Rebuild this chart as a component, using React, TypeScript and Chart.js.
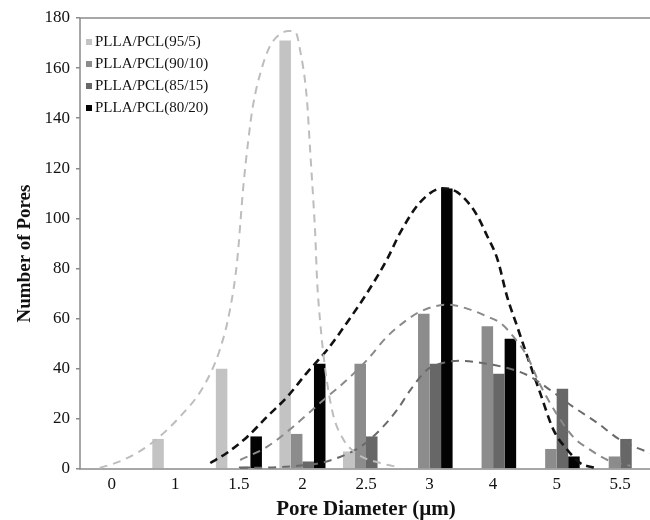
import React, { useEffect, useRef } from 'react';
import { Chart, registerables } from 'chart.js';

Chart.register(...registerables);

// Categories (pore diameter, µm) and tick values
const categories = ['0', '1', '1.5', '2', '2.5', '3', '4', '5', '5.5'];
const yTickMin = 0;
const yTickMax = 180;
const yTickStep = 20;

// Series labels
const seriesLabels = ['PLLA/PCL(95/5)', 'PLLA/PCL(90/10)', 'PLLA/PCL(85/15)', 'PLLA/PCL(80/20)'];

// Bar values (number of pores) per category
const pores95_5 = [0, 12, 40, 171, 7, 0, 0, 0, 0];
const pores90_10 = [0, 0, 0, 14, 42, 62, 57, 8, 5];
const pores85_15 = [0, 0, 1, 3, 13, 42, 38, 32, 12];
const pores80_20 = [0, 0, 13, 42, 0, 112, 52, 5, 0];

// Fitted distribution curves.
// x is in category-slot units: 0 = left edge of the "0" slot, 9 = right edge of the "5.5" slot.
const fit95_5: [number, number][] = [
  [0.31, 0.4], [0.68, 3.6], [1.13, 10.4], [1.57, 20.8], [1.94, 32.8], [2.2, 47.6], [2.36, 63.6],
  [2.47, 82.4], [2.57, 112.8], [2.65, 131.6], [2.72, 144.8], [2.87, 160.8], [2.99, 168.8],
  [3.15, 173.6], [3.28, 174.8], [3.39, 174.4], [3.46, 167.6], [3.57, 147.6], [3.62, 127.6],
  [3.67, 107.6], [3.7, 94.4], [3.73, 75.6], [3.78, 58.4], [3.86, 39.6], [3.98, 22], [4.14, 12],
  [4.36, 6], [4.72, 2.4], [5.04, 0.6],
];
const fit90_10: [number, number][] = [
  [2.52, 3.6], [2.94, 8.8], [3.35, 16.8], [3.78, 26.4], [4.2, 35.6], [4.52, 43.6], [4.83, 52.8],
  [5.15, 59.6], [5.35, 62.8], [5.78, 65.6], [6.14, 63.6], [6.41, 60.8], [6.61, 58.4], [6.82, 52.8],
  [7.04, 44.8], [7.24, 33.6], [7.51, 21.6], [7.76, 12.8], [8.03, 7.6], [8.3, 3.6], [8.66, 1.2],
];
const fit85_15: [number, number][] = [
  [2.52, 0.4], [3.15, 0.8], [3.78, 2.4], [4.09, 4.8], [4.41, 8.8], [4.72, 15.6], [4.99, 23.6],
  [5.2, 31.6], [5.46, 39.6], [5.72, 42.4], [5.98, 43.2], [6.3, 42.4], [6.82, 39.6], [7.09, 36.8],
  [7.35, 32.4], [7.76, 24.8], [8.14, 18.4], [8.5, 11.6], [8.98, 6.4], [9.1, 5.6],
];
const fit80_20: [number, number][] = [
  [2.05, 2.4], [2.31, 6.4], [2.63, 12.8], [2.94, 20.8], [3.26, 28.8], [3.57, 38.4], [3.89, 47.6],
  [4.2, 58.4], [4.52, 70.4], [4.83, 83.6], [5.04, 94.4], [5.35, 106.4], [5.7, 112], [5.94, 110.4],
  [6.22, 102.4], [6.41, 92.8], [6.57, 83.6], [6.72, 68.8], [6.88, 56.8], [7.04, 44.8], [7.24, 30.4],
  [7.45, 15.6], [7.67, 7.6], [7.87, 2.4], [8.11, 0.4],
];

const barColors = ['#c3c3c3', '#8c8c8c', '#676767', '#030303'];
const curveColors = ['#bdbdbd', '#8a8a8a', '#6a6a6a', '#111111'];
const FONT = '"Liberation Serif", "Times New Roman", serif';

const W = 652;
const H = 520;
const AREA_LEFT = 80;
const AREA_TOP = 18;
const X_AXIS_H = 51;

const framePlugin = {
  id: 'frame',
  afterDatasetsDraw(chart: any) {
    const { ctx, chartArea: a } = chart;
    ctx.save();
    ctx.strokeStyle = '#8a8a8a';
    ctx.lineWidth = 1.5;
    ctx.strokeRect(a.left, a.top, a.right - a.left, a.bottom - a.top);
    ctx.restore();
  },
};

const legendPlugin = {
  id: 'insideLegend',
  afterDraw(chart: any) {
    const { ctx, chartArea: a } = chart;
    ctx.save();
    ctx.font = `15px ${FONT}`;
    ctx.textBaseline = 'middle';
    ctx.textAlign = 'left';
    seriesLabels.forEach((label, i) => {
      const y = a.top + 24 + i * 22;
      ctx.fillStyle = barColors[i];
      ctx.fillRect(a.left + 6, y - 3, 6, 6);
      ctx.fillStyle = '#111';
      ctx.fillText(label, a.left + 15, y);
    });
    ctx.restore();
  },
};

const yTitlePlugin = {
  id: 'yTitle',
  afterDraw(chart: any) {
    const { ctx, chartArea: a } = chart;
    ctx.save();
    ctx.translate(25, (a.top + a.bottom) / 2 + 10);
    ctx.rotate(-Math.PI / 2);
    ctx.font = `bold 19px ${FONT}`;
    ctx.fillStyle = '#111';
    ctx.textAlign = 'center';
    ctx.textBaseline = 'middle';
    ctx.fillText('Number of Pores', 0, 0);
    ctx.restore();
  },
};

export default function App() {
  const barRef = useRef<HTMLCanvasElement | null>(null);
  const curveRef = useRef<HTMLCanvasElement | null>(null);

  useEffect(() => {
    if (!barRef.current || !curveRef.current) return;
    const barSeries = [pores95_5, pores90_10, pores85_15, pores80_20];
    const fits = [fit95_5, fit90_10, fit85_15, fit80_20];

    const barChart = new Chart(barRef.current, {
      type: 'bar',
      data: {
        labels: categories,
        datasets: barSeries.map((d, i) => ({
          label: seriesLabels[i],
          data: d,
          backgroundColor: barColors[i],
          borderWidth: 0,
          barPercentage: 1,
          categoryPercentage: 0.725,
        })),
      },
      options: {
        animation: false,
        responsive: false,
        layout: { padding: { top: AREA_TOP, right: 0, left: 0, bottom: 0 } },
        plugins: {
          legend: { display: false },
          tooltip: { enabled: false },
          title: { display: false },
        },
        scales: {
          x: {
            type: 'category',
            position: 'bottom',
            offset: true,
            grid: { display: false, drawTicks: false },
            border: { display: false },
            ticks: { color: '#111', font: { family: FONT, size: 17 }, padding: 5, maxRotation: 0 },
            title: {
              display: true,
              text: 'Pore Diameter (\u00b5m)',
              color: '#111',
              font: { family: FONT, size: 21, weight: 'bold', lineHeight: 1 },
              padding: { top: 0, bottom: 0 },
            },
            afterFit: (s: any) => { s.height = X_AXIS_H; },
          },
          y: {
            type: 'linear',
            position: 'left',
            min: yTickMin,
            max: yTickMax,
            grid: { drawOnChartArea: false, drawTicks: true, tickLength: 4, color: '#8a8a8a', lineWidth: 1.5 },
            border: { display: false },
            ticks: { stepSize: yTickStep, color: '#111', font: { family: FONT, size: 17 }, padding: 6 },
            afterFit: (s: any) => { s.width = AREA_LEFT; },
          },
        },
      } as any,
      plugins: [framePlugin, legendPlugin, yTitlePlugin],
    });

    // Overlay chart for the fitted curves: same plot area, continuous x scale.
    const curveChart = new Chart(curveRef.current, {
      type: 'line',
      data: {
        datasets: fits.map((f, i) => ({
          label: seriesLabels[i] + ' fit',
          data: f.map(([x, y]) => ({ x, y })),
          borderColor: curveColors[i],
          borderWidth: i === 3 ? 2.6 : 2,
          borderDash: i === 3 ? [8, 5] : [8, 6],
          pointRadius: 0,
          fill: false,
          cubicInterpolationMode: 'monotone',
        })),
      },
      options: {
        animation: false,
        responsive: false,
        layout: { padding: { top: AREA_TOP, right: 0, left: AREA_LEFT, bottom: X_AXIS_H } },
        plugins: { legend: { display: false }, tooltip: { enabled: false } },
        scales: {
          x: { type: 'linear', display: false, min: 0, max: 9, offset: false },
          y: { type: 'linear', display: false, min: yTickMin, max: yTickMax },
        },
      } as any,
    });

    return () => {
      curveChart.destroy();
      barChart.destroy();
    };
  }, []);

  return (
    <div style={{ position: 'absolute', left: 0, top: 0, width: 650, height: H, overflow: 'hidden', background: '#fff' }}>
      <canvas ref={barRef} width={W} height={H} style={{ position: 'absolute', left: 0, top: 0, width: W, height: H }} />
      <canvas ref={curveRef} width={W} height={H} style={{ position: 'absolute', left: 0, top: 0, width: W, height: H }} />
    </div>
  );
}
